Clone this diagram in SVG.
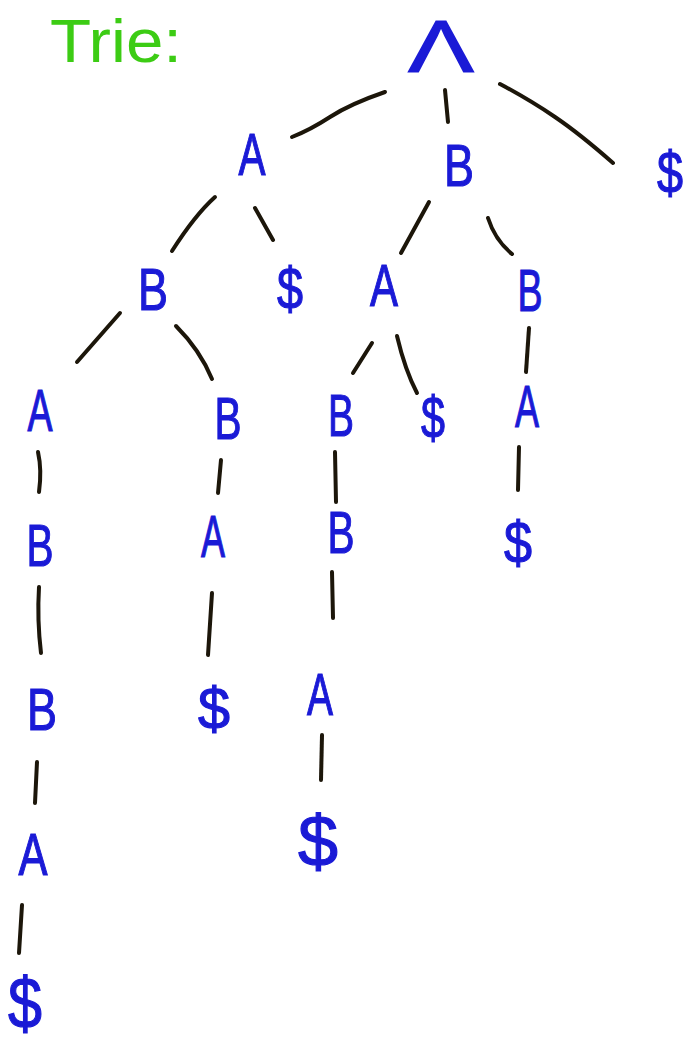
<svg xmlns="http://www.w3.org/2000/svg" width="690" height="1054" viewBox="0 0 690 1054">
<style>
.t{font-family:"Liberation Sans","DejaVu Sans",sans-serif;font-size:60px;fill:#1a1ad6;stroke:#1a1ad6;stroke-width:1.2;text-anchor:middle}
.e{fill:none;stroke:#1c160a;stroke-width:4;stroke-linecap:round;stroke-linejoin:round}
.title{font-family:"Liberation Sans","DejaVu Sans",sans-serif;font-size:62px;fill:#3ccc14}
</style>
<rect width="690" height="1054" fill="#ffffff"/>
<text class="title" x="50" y="62" textLength="132" lengthAdjust="spacingAndGlyphs">Trie:</text>
<g id="connectors">
<path class="e" d="M385,92 Q350,104 330,117 T292,137"/>
<path class="e" d="M445,90 L448,122"/>
<path class="e" d="M500,84 Q530,100 555,117 T613,163"/>
<path class="e" d="M215,197 Q195,215 172,251"/>
<path class="e" d="M255,208 L273,240"/>
<path class="e" d="M429,202 L401,253"/>
<path class="e" d="M488,218 Q495,240 512,254"/>
<path class="e" d="M120,313 L77,362"/>
<path class="e" d="M176,326 Q200,350 212,379"/>
<path class="e" d="M372,343 L353,373"/>
<path class="e" d="M397,336 Q405,370 417,393"/>
<path class="e" d="M529,328 L526,372"/>
<path class="e" d="M38,452 Q42,470 39,492"/>
<path class="e" d="M221,460 L218,493"/>
<path class="e" d="M335,452 L336,502"/>
<path class="e" d="M519,447 L518,490"/>
<path class="e" d="M39,587 Q37,620 41,653"/>
<path class="e" d="M212,593 L208,655"/>
<path class="e" d="M332,572 L333,618"/>
<path class="e" d="M37,762 L35,803"/>
<path class="e" d="M322,735 L321,780"/>
<path class="e" d="M22,905 L19,953"/>
</g>
<g id="n0"><text class="t" x="441" y="72" style="font-size:74px" textLength="66" lengthAdjust="spacingAndGlyphs">Λ</text></g>
<g id="n1"><text class="t" x="252" y="175" textLength="27" lengthAdjust="spacingAndGlyphs">A</text></g>
<g id="n2"><text class="t" x="459" y="186" textLength="30" lengthAdjust="spacingAndGlyphs">B</text></g>
<g id="n3"><text class="t" x="670" y="193" textLength="26" lengthAdjust="spacingAndGlyphs">$</text></g>
<g id="n4"><text class="t" x="153" y="310" textLength="30" lengthAdjust="spacingAndGlyphs">B</text></g>
<g id="n5"><text class="t" x="290" y="309" textLength="26" lengthAdjust="spacingAndGlyphs">$</text></g>
<g id="n6"><text class="t" x="384" y="306" textLength="28" lengthAdjust="spacingAndGlyphs">A</text></g>
<g id="n7"><text class="t" x="530" y="311" textLength="25" lengthAdjust="spacingAndGlyphs">B</text></g>
<g id="n8"><text class="t" x="40" y="431" textLength="25" lengthAdjust="spacingAndGlyphs">A</text></g>
<g id="n9"><text class="t" x="228" y="439" textLength="27" lengthAdjust="spacingAndGlyphs">B</text></g>
<g id="n10"><text class="t" x="341" y="436" textLength="26" lengthAdjust="spacingAndGlyphs">B</text></g>
<g id="n11"><text class="t" x="433" y="438" textLength="24" lengthAdjust="spacingAndGlyphs">$</text></g>
<g id="n12"><text class="t" x="527" y="427" textLength="24" lengthAdjust="spacingAndGlyphs">A</text></g>
<g id="n13"><text class="t" x="40" y="566" textLength="27" lengthAdjust="spacingAndGlyphs">B</text></g>
<g id="n14"><text class="t" x="213" y="557" textLength="24" lengthAdjust="spacingAndGlyphs">A</text></g>
<g id="n15"><text class="t" x="341" y="553" textLength="27" lengthAdjust="spacingAndGlyphs">B</text></g>
<g id="n16"><text class="t" x="518" y="563" textLength="28" lengthAdjust="spacingAndGlyphs">$</text></g>
<g id="n17"><text class="t" x="42" y="730" textLength="30" lengthAdjust="spacingAndGlyphs">B</text></g>
<g id="n18"><text class="t" x="214" y="729" textLength="32" lengthAdjust="spacingAndGlyphs">$</text></g>
<g id="n19"><text class="t" x="320" y="715" textLength="26" lengthAdjust="spacingAndGlyphs">A</text></g>
<g id="n20"><text class="t" x="33" y="875" textLength="29" lengthAdjust="spacingAndGlyphs">A</text></g>
<g id="n21"><text class="t" x="318" y="866" style="font-size:72px" textLength="40" lengthAdjust="spacingAndGlyphs">$</text></g>
<g id="n22"><text class="t" x="25" y="1028" style="font-size:72px" textLength="34" lengthAdjust="spacingAndGlyphs">$</text></g>
</svg>
